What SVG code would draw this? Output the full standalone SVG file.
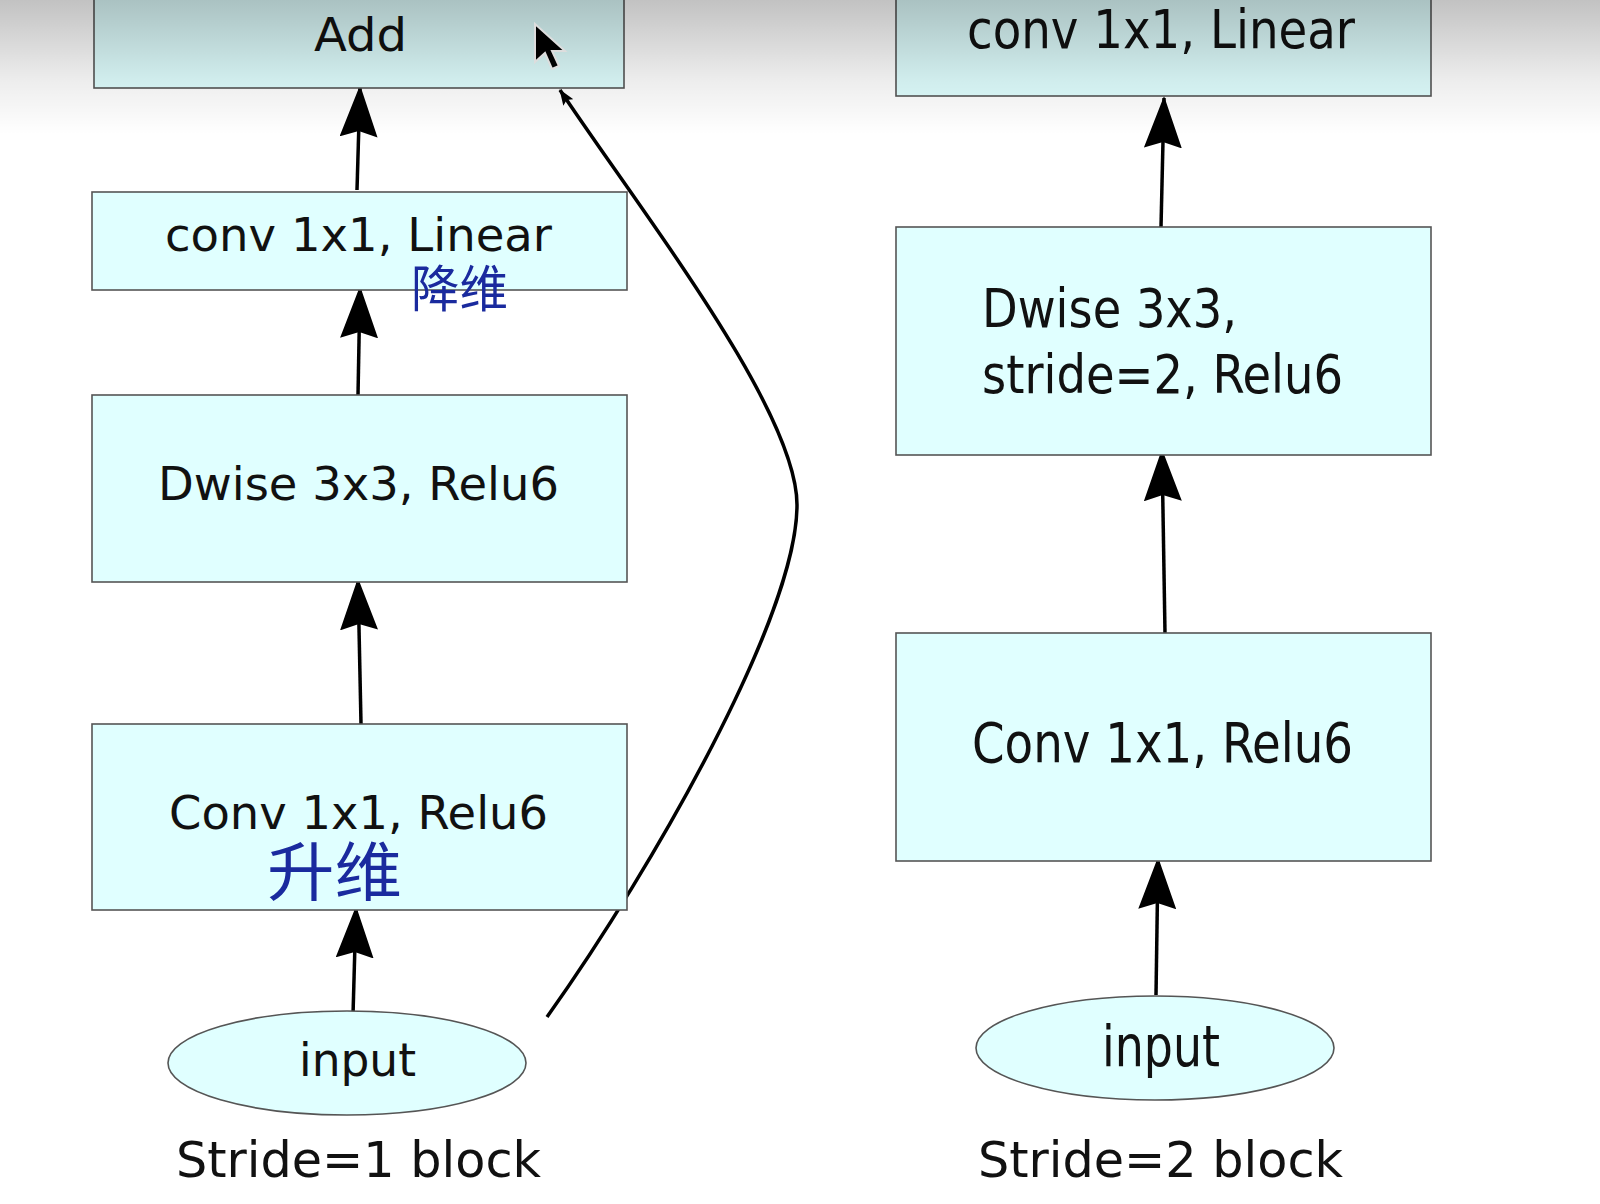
<svg xmlns="http://www.w3.org/2000/svg" width="1600" height="1204" viewBox="0 0 1600 1204">
<style>
.box{fill:#e0ffff;stroke:#555;stroke-width:1.6}
.lbl{font-family:"DejaVu Sans","Liberation Sans",sans-serif;fill:#111}
.cond{font-family:"DejaVu Sans Condensed","DejaVu Sans","Liberation Sans",sans-serif;fill:#111}
.hand{font-family:"Noto Sans CJK SC",sans-serif;fill:#1a2a9e}
.edge{fill:none;stroke:#000;stroke-width:3.5}
</style>
<defs>
<marker id="big" viewBox="0 0 52 38" refX="50" refY="19" markerWidth="52" markerHeight="38" markerUnits="userSpaceOnUse" orient="auto">
<path d="M0,0 L52,19 L0,38 L6,19 Z" fill="#000"/>
</marker>
<marker id="small" viewBox="0 0 16 12" refX="15" refY="6" markerWidth="16" markerHeight="12" markerUnits="userSpaceOnUse" orient="auto">
<path d="M0,0 L16,6 L0,12 L3,6 Z" fill="#000"/>
</marker>
<linearGradient id="shade" x1="0" y1="0" x2="0" y2="1">
<stop offset="0" stop-color="#000" stop-opacity="0.24"/>
<stop offset="0.6" stop-color="#000" stop-opacity="0.07"/>
<stop offset="1" stop-color="#000" stop-opacity="0"/>
</linearGradient>
</defs>
<rect x="0" y="0" width="1600" height="1204" fill="#fff"/>

<g id="connectors">
<path class="edge" d="M353,1015 L356,908" marker-end="url(#big)"/>
<path class="edge" d="M361,724 L358,580" marker-end="url(#big)"/>
<path class="edge" d="M358,395 L360,288" marker-end="url(#big)"/>
<path class="edge" d="M357,190 L360,87" marker-end="url(#big)"/>
<path class="edge" d="M547,1017 C655,865 797,615 797,505 C797,410 642,213 560,90" stroke-width="3.5" marker-end="url(#small)"/>
<path class="edge" d="M1156,995 L1158,859" marker-end="url(#big)"/>
<path class="edge" d="M1165,633 L1162,451" marker-end="url(#big)"/>
<path class="edge" d="M1161,227 L1164,98" marker-end="url(#big)"/>
</g>

<g id="add">
<rect class="box" x="94" y="-10" width="530" height="98"/>
<text class="lbl" x="314" y="51" font-size="47" textLength="93" lengthAdjust="spacingAndGlyphs">Add</text>
</g>
<g id="conv-linear-1">
<rect class="box" x="92" y="192" width="535" height="98"/>
<text class="lbl" x="165" y="251" font-size="46" textLength="387" lengthAdjust="spacingAndGlyphs">conv 1x1, Linear</text>
<text class="hand" x="411" y="307" font-size="50" textLength="97" lengthAdjust="spacingAndGlyphs">降维</text>
</g>
<g id="dwise-1">
<rect class="box" x="92" y="395" width="535" height="187"/>
<text class="lbl" x="158" y="500" font-size="46" textLength="401" lengthAdjust="spacingAndGlyphs">Dwise 3x3, Relu6</text>
</g>
<g id="conv-relu-1">
<rect class="box" x="92" y="724" width="535" height="186"/>
<text class="lbl" x="169" y="829" font-size="46" textLength="379" lengthAdjust="spacingAndGlyphs">Conv 1x1, Relu6</text>
<text class="hand" x="267" y="895" font-size="64" textLength="135" lengthAdjust="spacingAndGlyphs">升维</text>
</g>
<g id="input-1">
<ellipse class="box" cx="347" cy="1063" rx="179" ry="52"/>
<text class="lbl" x="299" y="1076" font-size="46" textLength="117" lengthAdjust="spacingAndGlyphs">input</text>
</g>
<text class="lbl" x="176" y="1177" font-size="50" textLength="365" lengthAdjust="spacingAndGlyphs">Stride=1 block</text>

<g id="conv-linear-2">
<rect class="box" x="896" y="-10" width="535" height="106"/>
<text class="cond" x="967" y="48" font-size="54" textLength="388" lengthAdjust="spacingAndGlyphs">conv 1x1, Linear</text>
</g>
<g id="dwise-2">
<rect class="box" x="896" y="227" width="535" height="228"/>
<text class="cond" x="982" y="327" font-size="54" textLength="255" lengthAdjust="spacingAndGlyphs">Dwise 3x3,</text>
<text class="cond" x="982" y="393" font-size="54" textLength="361" lengthAdjust="spacingAndGlyphs">stride=2, Relu6</text>
</g>
<g id="conv-relu-2">
<rect class="box" x="896" y="633" width="535" height="228"/>
<text class="cond" x="972" y="762" font-size="56" textLength="381" lengthAdjust="spacingAndGlyphs">Conv 1x1, Relu6</text>
</g>
<g id="input-2">
<ellipse class="box" cx="1155" cy="1048" rx="179" ry="52"/>
<text class="cond" x="1102" y="1066" font-size="57" textLength="118" lengthAdjust="spacingAndGlyphs">input</text>
</g>
<text class="lbl" x="978" y="1177" font-size="50" textLength="365" lengthAdjust="spacingAndGlyphs">Stride=2 block</text>

<rect x="0" y="0" width="1600" height="135" fill="url(#shade)"/>
<path d="M535,24 L535,62 L545,53 L552,69 L559,66 L552,51 L565,51 Z" fill="#000" stroke="#ddd" stroke-width="2"/>
</svg>
